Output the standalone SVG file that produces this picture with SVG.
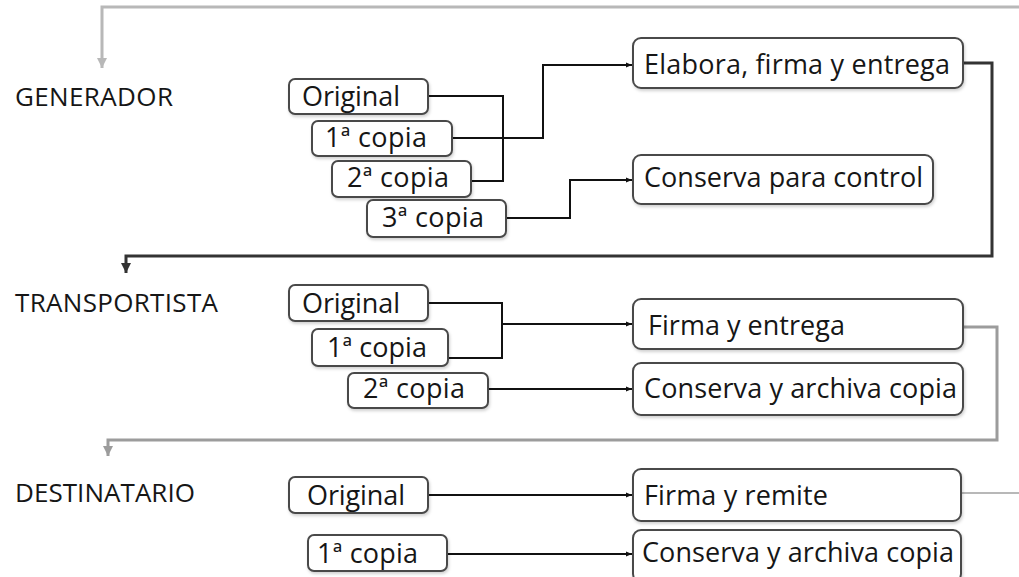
<svg xmlns="http://www.w3.org/2000/svg" width="1019" height="577" viewBox="0 0 1019 577">
<style>
.box{fill:#fff;stroke:#4a4a4a;stroke-width:2;filter:url(#sh)}
.t{font-family:"Open Sans","Liberation Sans",sans-serif;font-size:27px;fill:#161616}
.lbl{font-family:"Open Sans","Liberation Sans",sans-serif;font-size:26px;fill:#161616}
.c{fill:none;stroke:#111;stroke-width:2}
.cd{fill:none;stroke:#333;stroke-width:3}
.cg{fill:none;stroke:#b8b8b8;stroke-width:3}
.cg2{fill:none;stroke:#9c9c9c;stroke-width:3}
</style>
<defs>
<filter id="sh" x="-10%" y="-20%" width="120%" height="150%">
<feDropShadow dx="1" dy="2" stdDeviation="1.5" flood-color="#000" flood-opacity="0.18"/>
</filter>
<marker id="a" viewBox="0 0 10 10" refX="10" refY="5" markerWidth="6" markerHeight="6" orient="auto" markerUnits="userSpaceOnUse">
<path d="M0,1 L10,5 L0,9 z" fill="#111"/>
</marker>
<marker id="ad" viewBox="0 0 10 10" refX="10" refY="5" markerWidth="10" markerHeight="10" orient="auto" markerUnits="userSpaceOnUse">
<path d="M0,0 L10,5 L0,10 z" fill="#333"/>
</marker>
<marker id="ag" viewBox="0 0 10 10" refX="10" refY="5" markerWidth="10" markerHeight="10" orient="auto" markerUnits="userSpaceOnUse">
<path d="M0,0 L10,5 L0,10 z" fill="#b8b8b8"/>
</marker>
<marker id="ag2" viewBox="0 0 10 10" refX="10" refY="5" markerWidth="10" markerHeight="10" orient="auto" markerUnits="userSpaceOnUse">
<path d="M0,0 L10,5 L0,10 z" fill="#9c9c9c"/>
</marker>
</defs>
<rect width="1019" height="577" fill="#fff"/>

<g id="connectors">
<path class="cg" d="M1019,7 H102 V68" marker-end="url(#ag)"/>
<path class="c" d="M428,96 H503 V181 H471"/>
<path class="c" d="M452,138 H543 V65 H632" marker-end="url(#a)"/>
<path class="c" d="M506,218 H570 V180 H632" marker-end="url(#a)"/>
<path class="cd" d="M963,63 H992 V256 H126 V273" marker-end="url(#ad)"/>
<path class="c" d="M428,303 H502 V358 H448"/>
<path class="c" d="M502,324 H632" marker-end="url(#a)"/>
<path class="c" d="M488,389 H632" marker-end="url(#a)"/>
<path class="cg2" d="M963,327 H997 V440 H108 V456" marker-end="url(#ag2)"/>
<path class="c" d="M428,495 H632" marker-end="url(#a)"/>
<path class="c" d="M447,554 H632" marker-end="url(#a)"/>
<path class="cg" d="M961,493 H1019" style="stroke-width:2"/>
</g>

<g id="lbl-generador"><text class="lbl" x="15" y="106" textLength="158">GENERADOR</text></g>
<g id="lbl-transportista"><text class="lbl" x="15" y="312" textLength="203">TRANSPORTISTA</text></g>
<g id="lbl-destinatario"><text class="lbl" x="15" y="502" textLength="180">DESTINATARIO</text></g>

<g id="g-original"><rect class="box" x="289" y="79" width="139" height="35" rx="6"/><text class="t" x="302" y="106" textLength="98">Original</text></g>
<g id="g-copia1"><rect class="box" x="312" y="121" width="140" height="35" rx="6"/><text class="t" x="325" y="147" textLength="102">1ª copia</text></g>
<g id="g-copia2"><rect class="box" x="332" y="161" width="139" height="36" rx="6"/><text class="t" x="347" y="187" textLength="102">2ª copia</text></g>
<g id="g-copia3"><rect class="box" x="367" y="200" width="139" height="37" rx="6"/><text class="t" x="382" y="227" textLength="102">3ª copia</text></g>
<g id="g-elabora"><rect class="box" x="633" y="38" width="330" height="50" rx="8"/><text class="t" x="644" y="74" textLength="306">Elabora, firma y entrega</text></g>
<g id="g-conserva"><rect class="box" x="633" y="155" width="300" height="49" rx="8"/><text class="t" x="644" y="187" textLength="279">Conserva para control</text></g>

<g id="t-original"><rect class="box" x="289" y="285" width="139" height="36" rx="6"/><text class="t" x="302" y="313" textLength="98">Original</text></g>
<g id="t-copia1"><rect class="box" x="312" y="329" width="136" height="37" rx="6"/><text class="t" x="327" y="357" textLength="100">1ª copia</text></g>
<g id="t-copia2"><rect class="box" x="348" y="373" width="140" height="35" rx="6"/><text class="t" x="363" y="398" textLength="102">2ª copia</text></g>
<g id="t-firma"><rect class="box" x="633" y="299" width="330" height="50" rx="8"/><text class="t" x="648" y="335" textLength="197">Firma y entrega</text></g>
<g id="t-conserva"><rect class="box" x="633" y="363" width="330" height="52" rx="8"/><text class="t" x="644" y="398" textLength="313">Conserva y archiva copia</text></g>

<g id="d-original"><rect class="box" x="289" y="477" width="139" height="36" rx="6"/><text class="t" x="307" y="505" textLength="98">Original</text></g>
<g id="d-copia1"><rect class="box" x="308" y="535" width="139" height="36" rx="6"/><text class="t" x="317" y="563" textLength="101">1ª copia</text></g>
<g id="d-firma"><rect class="box" x="633" y="469" width="328" height="52" rx="8"/><text class="t" x="644" y="505" textLength="184">Firma y remite</text></g>
<g id="d-conserva"><rect class="box" x="633" y="530" width="328" height="52" rx="8"/><text class="t" x="642" y="562" textLength="312">Conserva y archiva copia</text></g>
</svg>
